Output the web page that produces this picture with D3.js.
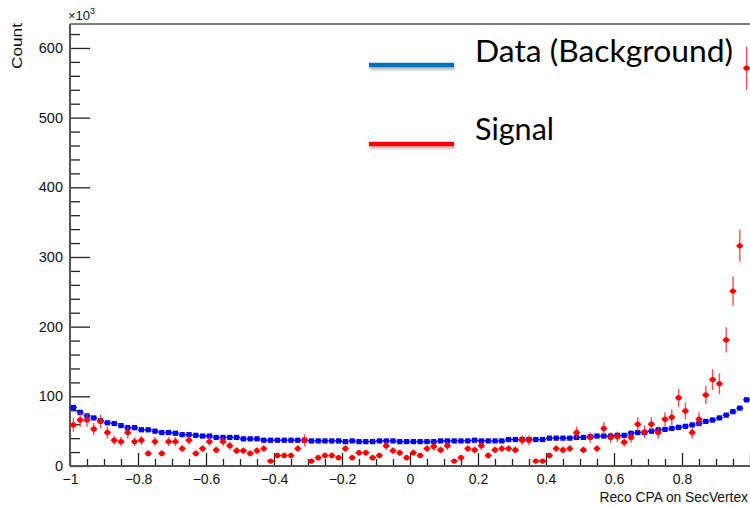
<!DOCTYPE html>
<html>
<head>
<meta charset="utf-8">
<script src="https://cdn.jsdelivr.net/npm/d3@7/dist/d3.min.js"></script>
<style>
  body { margin: 0; background: #fff; }
  svg { display: block; }
  .tick text { font-family: "Liberation Sans", Arial, sans-serif; }
</style>
</head>
<body>
<svg id="chart" width="750" height="506"></svg>
<script>
// Histogram binning: 100 bins over [-1, 1]
const binLow = -1;
const binHigh = 1;
const nBins = 100;

// Counts per bin (x10^3)
const background = [
  84, 77, 72, 69, 65, 62, 61, 58, 55, 55,
  52, 52, 50, 48, 48, 47, 45, 45, 44, 43,
  43, 41, 41, 41, 41, 39, 39, 39, 37, 37,
  37, 37, 37, 37, 37, 36, 36, 36, 36, 36,
  35, 36, 35, 35, 35, 36, 36, 36, 35, 35,
  35, 35, 35, 35, 36, 36, 36, 36, 36, 37,
  36, 36, 36, 36, 38, 38, 38, 38, 38, 38,
  40, 40, 40, 40, 41, 41, 42, 43, 43, 43,
  44, 44, 47, 48, 48, 50, 52, 52.5, 54, 55.5,
  57, 59, 61, 64, 66, 69, 73, 78, 83, 95
];

const signal = [
  59, 66, 66, 53, 64, 48, 37, 35, 48, 35,
  37, 18, 35, 18, 35, 35, 25, 37, 18, 25,
  35, 23, 35, 29, 22, 22, 18, 22, 25, 7,
  15, 15, 15, 25, 37, 7, 12, 15, 15, 12,
  25, 12, 19, 19, 12, 15, 29, 22, 19, 12,
  19, 15, 25, 28, 23, 29, 7, 12, 25, 23,
  29, 15, 23, 25, 25, 23, 37, 37, 7, 7,
  15, 25, 23, 25, 48, 23, 41, 25, 54, 41,
  42, 34, 41, 60, 49, 60, 48, 67, 70, 98,
  79, 48, 67, 102, 124, 118, 181, 251, 316, 571
];

const signalErr = [
  10, 10, 10, 9, 10, 8.5, 6.5, 6.5, 8.5, 6.5,
  6.5, 4.5, 6.5, 4.5, 6.5, 6.5, 5, 6.5, 4.5, 5,
  6.5, 5, 6.5, 6, 5, 5, 4.5, 5, 5, 3,
  4, 4, 4, 5, 9, 3, 4, 4, 4, 4,
  5, 4, 4.5, 4.5, 4, 4, 6, 5, 4.5, 4,
  4.5, 4, 5, 6, 5, 6, 3, 4, 5, 5,
  6, 4, 5, 5, 5, 5, 7, 7, 3, 3,
  4, 5, 5, 5, 8.5, 5, 7.5, 5, 9, 7.5,
  7.5, 6.5, 7.5, 10, 9, 10, 8.5, 10, 11, 13,
  12, 8.5, 10, 13, 15, 15, 18, 21, 23, 31
];

// Axis ticks
const xMajorTicks = [-1, -0.8, -0.6, -0.4, -0.2, 0, 0.2, 0.4, 0.6, 0.8, 1];
const xTickLabels = ["\u22121", "\u22120.8", "\u22120.6", "\u22120.4", "\u22120.2", "0", "0.2", "0.4", "0.6", "0.8", ""];
const yMajorTicks = [0, 100, 200, 300, 400, 500, 600];
const yTickLabels = ["0", "100", "200", "300", "400", "500", "600"];

const legendItems = [
  { label: "Data (Background)", color: "#0070C0" },
  { label: "Signal", color: "#FF0000" }
];

const svg = d3.select("#chart");
const frame = { left: 70, right: 750, top: 24, bottom: 466 };
const yMax = 634.4;

const x = d3.scaleLinear().domain([binLow, binHigh]).range([frame.left, frame.right]);
const y = d3.scaleLinear().domain([0, yMax]).range([frame.bottom, frame.top]);
const binWidth = (binHigh - binLow) / nBins;
const binLo = i => binLow + i * binWidth;
const binCenter = i => binLow + (i + 0.5) * binWidth;

// Frame (top edge)
svg.append("line")
  .attr("x1", frame.left).attr("x2", frame.right)
  .attr("y1", frame.top).attr("y2", frame.top)
  .attr("stroke", "#000").attr("stroke-width", 1);

// Minor ticks
const xMinor = d3.range(-1, 1.0001, 0.05).map(v => +v.toFixed(3)).filter(v => !xMajorTicks.some(m => Math.abs(m - v) < 1e-6));
const yMinor = d3.range(0, yMax, 20).filter(v => v % 100 !== 0);

const gxMinor = svg.append("g").attr("transform", `translate(0,${frame.bottom})`)
  .call(d3.axisBottom(x).tickValues(xMinor).tickSize(-7).tickFormat(""));
const gyMinor = svg.append("g").attr("transform", `translate(${frame.left},0)`)
  .call(d3.axisLeft(y).tickValues(yMinor).tickSize(-10).tickFormat(""));

// Major ticks with labels
const gx = svg.append("g").attr("transform", `translate(0,${frame.bottom})`)
  .call(d3.axisBottom(x).tickValues(xMajorTicks).tickSize(-13).tickPadding(8)
    .tickFormat((d, i) => xTickLabels[i]));
const gy = svg.append("g").attr("transform", `translate(${frame.left},0)`)
  .call(d3.axisLeft(y).tickValues(yMajorTicks).tickSize(-20).tickPadding(7)
    .tickFormat((d, i) => yTickLabels[i]));

[gxMinor, gyMinor, gx, gy].forEach(g => {
  g.select(".domain").remove();
  g.selectAll(".tick line").attr("stroke", "#222").attr("stroke-width", 1.3);
});
gx.selectAll(".tick text").attr("font-size", 14).attr("fill", "#111");
gy.selectAll(".tick text").attr("font-size", 14.5).attr("fill", "#111");

// Axis lines
svg.append("line")
  .attr("x1", frame.left).attr("x2", frame.right)
  .attr("y1", frame.bottom).attr("y2", frame.bottom)
  .attr("stroke", "#555").attr("stroke-width", 2);
svg.append("line")
  .attr("x1", frame.left).attr("x2", frame.left)
  .attr("y1", frame.top).attr("y2", frame.bottom)
  .attr("stroke", "#555").attr("stroke-width", 2);

// Exponent label
svg.append("text")
  .attr("x", 68).attr("y", 20)
  .attr("font-family", "Liberation Sans, Arial, sans-serif")
  .attr("font-size", 13).attr("fill", "#111")
  .text("\u00d710")
  .append("tspan").attr("dy", -6).attr("font-size", 9).text("3");

// Axis titles
svg.append("text")
  .attr("transform", "translate(22,23) rotate(-90)")
  .attr("text-anchor", "end")
  .attr("font-family", "Liberation Sans, Arial, sans-serif")
  .attr("font-size", 14).attr("fill", "#111")
  .attr("textLength", 46).attr("lengthAdjust", "spacingAndGlyphs")
  .text("Count");

svg.append("text")
  .attr("x", 748).attr("y", 502)
  .attr("text-anchor", "end")
  .attr("font-family", "Liberation Sans, Arial, sans-serif")
  .attr("font-size", 13.8).attr("fill", "#111")
  .text("Reco CPA on SecVertex");

// Background histogram: squares with bin-width bars
const bgG = svg.append("g");
bgG.selectAll("line.bg").data(background).join("line")
  .attr("class", "bg")
  .attr("x1", (d, i) => x(binLo(i))).attr("x2", (d, i) => x(binLo(i) + binWidth))
  .attr("y1", d => y(d)).attr("y2", d => y(d))
  .attr("stroke", "#0000ff").attr("stroke-width", 1.6);
bgG.selectAll("rect").data(background).join("rect")
  .attr("x", (d, i) => x(binCenter(i)) - 2.6).attr("y", d => y(d) - 2.6)
  .attr("width", 5.2).attr("height", 5.2)
  .attr("fill", "#0000ff");

// Signal histogram: points with error bars
const sigG = svg.append("g");
sigG.selectAll("line.h").data(signal).join("line")
  .attr("class", "h")
  .attr("x1", (d, i) => x(binLo(i))).attr("x2", (d, i) => x(binLo(i) + binWidth))
  .attr("y1", d => y(d)).attr("y2", d => y(d))
  .attr("stroke", "#ff0000").attr("stroke-width", 1.6);
sigG.selectAll("line.v").data(signal).join("line")
  .attr("class", "v")
  .attr("x1", (d, i) => x(binCenter(i))).attr("x2", (d, i) => x(binCenter(i)))
  .attr("y1", (d, i) => y(d + signalErr[i])).attr("y2", (d, i) => y(Math.max(0, d - signalErr[i])))
  .attr("stroke", "#ff2020").attr("stroke-opacity", 0.8).attr("stroke-width", 1.4);
sigG.selectAll("circle").data(signal).join("circle")
  .attr("cx", (d, i) => x(binCenter(i))).attr("cy", d => y(d))
  .attr("r", 2.7).attr("fill", "#ff0000");

// Legend: coloured strokes with a soft grey shadow, plus labels
const defs = svg.append("defs");
defs.append("filter").attr("id", "soft")
  .attr("filterUnits", "userSpaceOnUse")
  .attr("x", 300).attr("y", 0).attr("width", 250).attr("height", 200)
  .append("feGaussianBlur").attr("stdDeviation", 1.3);

const legendY = [65, 144];
const legendTextY = [62, 140];
const legendTextLen = [258, 79];
const legend = svg.append("g");
legendItems.forEach((item, i) => {
  legend.append("line")
    .attr("x1", 370).attr("x2", 455)
    .attr("y1", legendY[i] + 3).attr("y2", legendY[i] + 3)
    .attr("stroke", "#888").attr("stroke-opacity", 0.55).attr("stroke-width", 4)
    .attr("filter", "url(#soft)");
  legend.append("line")
    .attr("x1", 369).attr("x2", 454)
    .attr("y1", legendY[i]).attr("y2", legendY[i])
    .attr("stroke", item.color).attr("stroke-width", 4.5);
  legend.append("text")
    .attr("x", 475).attr("y", legendTextY[i])
    .attr("font-family", "Lato, 'Open Sans', sans-serif")
    .attr("font-size", 30).attr("fill", "#000")
    .attr("textLength", legendTextLen[i]).attr("lengthAdjust", "spacingAndGlyphs")
    .text(item.label);
});
</script>
</body>
</html>
